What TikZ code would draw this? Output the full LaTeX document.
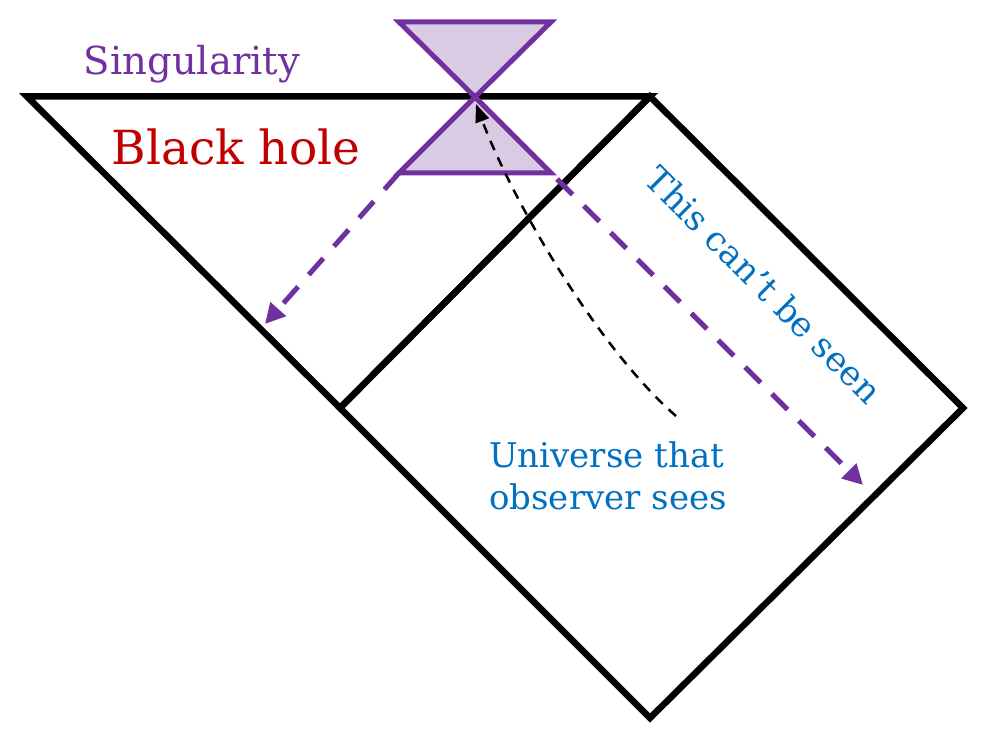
\documentclass[tikz,border=0pt]{standalone}
\usepackage{fontspec}
\setmainfont{DejaVu Serif}
\usetikzlibrary{arrows.meta}
\definecolor{cpurple}{HTML}{7030A0}
\definecolor{clight}{HTML}{DACBE5}
\definecolor{cred}{HTML}{C00000}
\definecolor{cblue}{HTML}{0070C0}
\tikzset{
  frame/.style={draw=black, line width=6.5pt, line join=miter},
  cone/.style={draw=cpurple, fill=clight, line width=5pt, line join=miter},
  lightray/.style={draw=cpurple, line width=5pt, dash pattern=on 22pt off 16pt, -{Triangle[length=20pt,width=20pt]}},
  worldline/.style={draw=black, line width=2.5pt, dash pattern=on 10pt off 8pt, -{Triangle[length=18pt,width=14pt]}},
  lbl/.style={inner sep=0pt, anchor=base}
}
\begin{document}
\begin{tikzpicture}[x=1pt,y=-1pt]
\useasboundingbox (0,0) rectangle (989,746);
% Penrose diagram corners
\coordinate (tl) at (27,96.5);
\coordinate (tr) at (650,96.5);
\coordinate (mid) at (340,408);
\coordinate (right) at (963,408);
\coordinate (bot) at (650,718);
% black hole triangle
\draw[frame] (tl) -- (tr) -- (mid) -- cycle;
% universe square
\draw[frame] (mid) -- (tr) -- (right) -- (bot) -- cycle;
% hourglass (light cones)
\coordinate (apex) at (475,97);
\coordinate (ut1) at (399,22);
\coordinate (ut2) at (551,22);
\coordinate (lb1) at (399,173);
\coordinate (lb2) at (551,173);
\draw[cone] (apex) -- (ut1) -- (ut2) -- cycle;
\draw[cone] (apex) -- (lb1) -- (lb2) -- cycle;
% purple dashed rays
\coordinate (lend) at (265,324);
\coordinate (rstart) at (557,179);
\coordinate (rend) at (863,485);
\draw[lightray] (lb1) -- (lend);
\draw[lightray] (rstart) -- (rend);
% observer worldline
\coordinate (obs) at (676,416);
\coordinate (tip) at (476,104);
\draw[worldline] (obs) .. controls (600,350) and (514,205) .. (tip);
% labels
\node[lbl, text=cpurple, font=\fontsize{38.5}{44}\selectfont] (sing) at (192,75) {Singularity};
\node[lbl, text=cred, font=\fontsize{47}{54}\selectfont] (bh) at (236,165) {Black hole};
\node[lbl, text=cblue, font=\fontsize{34.5}{40}\selectfont, rotate=-45] (cant) at (755,294) {This can’t be seen};
\node[inner sep=0pt, anchor=base west, text=cblue, font=\fontsize{34}{44}\selectfont] (u1) at (489,467) {Universe that};
\node[inner sep=0pt, anchor=base west, text=cblue, font=\fontsize{34}{44}\selectfont] (u2) at (489,509) {observer sees};
\end{tikzpicture}
\end{document}
